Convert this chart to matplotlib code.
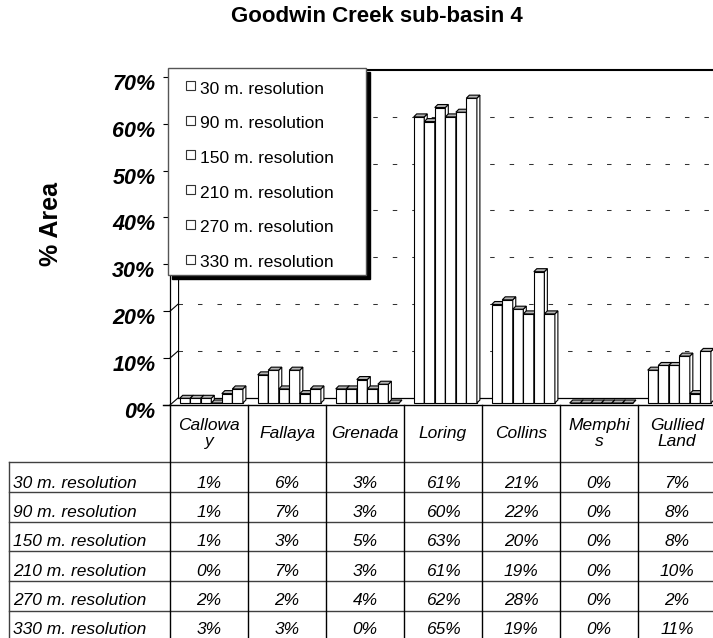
import matplotlib
matplotlib.use('Agg')
import matplotlib.pyplot as plt
from matplotlib.patches import Polygon, Rectangle
from matplotlib.lines import Line2D
from matplotlib.transforms import blended_transform_factory, ScaledTranslation

plt.rcParams['font.family'] = ['Liberation Sans', 'DejaVu Sans']

# Data (% area per soil type, one list per DEM resolution)
categories = ['Callowa\ny', 'Fallaya', 'Grenada', 'Loring', 'Collins', 'Memphi\ns', 'Gullied\nLand']
series_names = ['30 m. resolution', '90 m. resolution', '150 m. resolution',
                '210 m. resolution', '270 m. resolution', '330 m. resolution']
res_30 = [1, 6, 3, 61, 21, 0, 7]
res_90 = [1, 7, 3, 60, 22, 0, 8]
res_150 = [1, 3, 5, 63, 20, 0, 8]
res_210 = [0, 7, 3, 61, 19, 0, 10]
res_270 = [2, 2, 4, 62, 28, 0, 2]
res_330 = [3, 3, 0, 65, 19, 0, 11]
series_values = [res_30, res_90, res_150, res_210, res_270, res_330]
y_ticks = [0, 10, 20, 30, 40, 50, 60, 70]

W, H = 713, 638
fig = plt.figure(figsize=(W / 100, H / 100), dpi=100)


def fx(x):
    return x / W


def fy(y):
    return 1 - y / H


# three planes of the pseudo 3-D box: back wall, bar plane, front axis
col_px = 78
plot_w = col_px * len(categories)
plot_h = 70 * 4.69


def make_axes(left, bottom):
    a = fig.add_axes([fx(left), fy(bottom), plot_w / W, plot_h / H])
    a.set_xlim(0, len(categories))
    a.set_ylim(0, 70)
    a.patch.set_visible(False)
    for s in a.spines.values():
        s.set_visible(False)
    a.set_xticks([])
    a.set_yticks([])
    return a


ax_back = make_axes(178, 398)
ax_bar = make_axes(172.3, 403)
ax_front = make_axes(170, 405)

# back wall: dashed gridlines, top edge, floor, left edge
for t in y_ticks[1:-1]:
    ax_back.axhline(t, color='#333333', lw=0.75, ls=(0, (4.3, 14.4)), zorder=1)
ax_back.axhline(70, color='black', lw=1.5, clip_on=False)
ax_back.axhline(0, color='black', lw=0.9, clip_on=False)
ax_back.axvline(0, color='black', lw=0.9)

# bars with a small 3-D cap and side face
n_series = len(series_values)
bar_w = 0.135
dx = 3 / col_px
dy = 3 / 4.69
for j, vals in enumerate(series_values):
    lefts = [i + 0.5 - bar_w * n_series / 2 + j * bar_w for i in range(len(categories))]
    bars = ax_bar.bar(lefts, vals, width=bar_w, align='edge', color='white',
                      edgecolor='black', lw=0.8, clip_on=False)
    for x0, v, rect in zip(lefts, vals, bars):
        z = 2 + j * 0.1
        rect.set_zorder(z)
        x1 = x0 + bar_w
        side = Polygon([(x1, 0), (x1 + dx, dy), (x1 + dx, v + dy), (x1, v)],
                       closed=True, facecolor='white', edgecolor='black', lw=0.8,
                       zorder=z + 0.03, clip_on=False)
        top = Polygon([(x0, v), (x0 + dx, v + dy), (x1 + dx, v + dy), (x1, v)],
                      closed=True, facecolor='#b4b4b4', edgecolor='black', lw=0.8,
                      zorder=z + 0.05, clip_on=False)
        ax_bar.add_patch(side)
        ax_bar.add_patch(top)

# front value axis
ax_front.spines['left'].set_visible(True)
ax_front.spines['left'].set_linewidth(0.9)
ax_front.set_yticks(y_ticks)
ax_front.set_yticklabels([f'{t}%' for t in y_ticks], fontsize=15.5,
                         fontweight='bold', fontstyle='italic')
ax_front.tick_params(axis='y', direction='out', length=5, width=0.8, pad=5.5)
shift = ScaledTranslation(0, -0.05, fig.dpi_scale_trans)
for lab in ax_front.get_yticklabels():
    lab.set_transform(lab.get_transform() + shift)

# diagonal connectors between the front axis and the back wall
for t in y_ticks[:-1]:
    p0 = ax_front.transData.transform((0, t))
    p1 = ax_back.transData.transform((0, t))
    fig.add_artist(Line2D([p0[0] / W, p1[0] / W], [p0[1] / H, p1[1] / H],
                          transform=fig.transFigure, color='black', lw=0.8))

# titles
fig.text(fx(377), fy(17), 'Goodwin Creek sub-basin 4', ha='center', va='center',
         fontsize=16, fontweight='bold')
fig.text(fx(51), fy(224), '% Area', ha='center', va='center', rotation=90,
         fontsize=18, fontweight='bold')

# data table under the chart
tcol = blended_transform_factory(ax_front.transData, fig.transFigure)
line_c = '#404040'
header_top, header_bot = 405, 462
row_h = 29.8
n_rows = len(series_names)
fig.add_artist(Line2D([fx(163), 1.02], [fy(header_top)] * 2, transform=fig.transFigure,
                      color='black', lw=1))
for k in range(n_rows + 1):
    yy = header_bot + k * row_h
    fig.add_artist(Line2D([fx(9), 1.02], [fy(yy)] * 2, transform=fig.transFigure,
                          color=line_c, lw=1))
fig.add_artist(Line2D([fx(9)] * 2, [fy(header_bot), 0], transform=fig.transFigure,
                      color=line_c, lw=1))
for i in range(len(categories) + 1):
    fig.add_artist(Line2D([i, i], [fy(header_top), 0], transform=tcol, color='black', lw=1))
for i, cat in enumerate(categories):
    fig.text(i + 0.5, fy((header_top + header_bot) / 2), cat, transform=tcol,
             ha='center', va='center', fontsize=12.5, fontstyle='italic', linespacing=1.12)
for k, (name, vals) in enumerate(zip(series_names, series_values)):
    base = fy(488 + k * 29.2)
    fig.text(fx(13), base, name, ha='left', va='baseline', fontsize=12.5, fontstyle='italic')
    for i, v in enumerate(vals):
        fig.text(i + 0.5, base, f'{v}%', transform=tcol, ha='center', va='baseline',
                 fontsize=12.5, fontstyle='italic')

# legend box with shadow
lg_l, lg_t, lg_r, lg_b = 168, 68, 366, 275
fig.add_artist(Rectangle((fx(lg_l + 4), fy(lg_b + 4)), (lg_r - lg_l) / W, (lg_b - lg_t) / H,
                         transform=fig.transFigure, facecolor='black', edgecolor='black',
                         zorder=5))
fig.add_artist(Rectangle((fx(lg_l), fy(lg_b)), (lg_r - lg_l) / W, (lg_b - lg_t) / H,
                         transform=fig.transFigure, facecolor='white', edgecolor='#555555',
                         lw=1, zorder=6))
for k, name in enumerate(series_names):
    yc = 89 + k * 34.7
    fig.add_artist(Rectangle((fx(186), fy(yc + 1)), 9 / W, 9 / H, transform=fig.transFigure,
                             facecolor='white', edgecolor='#333333', lw=0.8, zorder=7))
    fig.text(fx(200), fy(yc), name, ha='left', va='center', fontsize=12.5, zorder=7)

fig.savefig('out.png', dpi=100)
